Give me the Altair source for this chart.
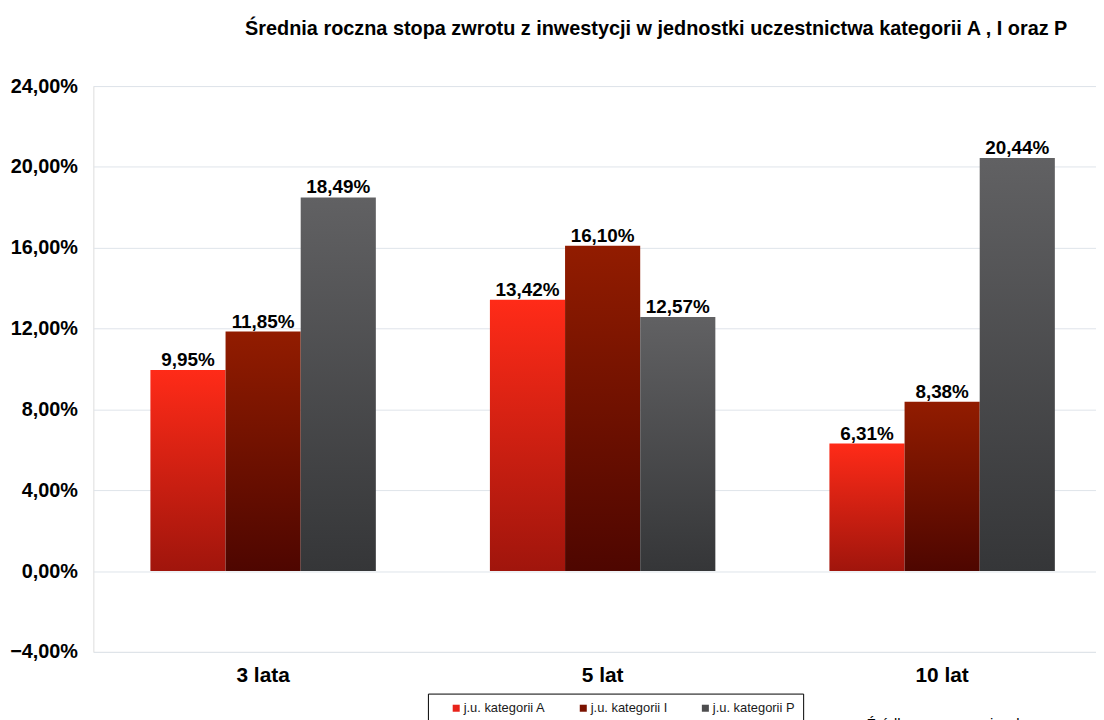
import altair as alt
import pandas as pd

periods = ["3 lata", "5 lat", "10 lat"]
series = ["j.u. kategorii A", "j.u. kategorii I", "j.u. kategorii P"]
vals_A = [9.95, 13.42, 6.31]
vals_I = [11.85, 16.10, 8.38]
vals_P = [18.49, 12.57, 20.44]
y_ticks = [-4, 0, 4, 8, 12, 16, 20, 24]
legend_colors = ["#e8231a", "#7a1200", "#4d4d4f"]
grad_top = ["#ff2b18", "#921c00", "#616163"]
grad_bottom = ["#a0150c", "#4e0600", "#353638"]

title_text = "Średnia roczna stopa zwrotu z inwestycji  w jednostki uczestnictwa kategorii A , I oraz P"
source_text = ["Źródło: opracowanie własne"]

rows = []
for s, vals in zip(series, [vals_A, vals_I, vals_P]):
    for p, v in zip(periods, vals):
        rows.append({"period": p, "series": s, "value": v,
                     "label": f"{v:.2f}".replace(".", ",") + "%"})
df = pd.DataFrame(rows)

FONT = "Liberation Sans"

x_enc = alt.X("period:N", sort=periods, title=None,
              scale=alt.Scale(domain=periods, paddingInner=0.336, paddingOuter=0.168, range=[0, 1026]),
              axis=alt.Axis(labelFontSize=21, labelFontWeight="bold", labelFont=FONT, labelColor="#000",
                            labelPadding=13, ticks=False, domain=False, labelAngle=0))
xo_enc = alt.XOffset("series:N", scale=alt.Scale(domain=series, paddingInner=0, paddingOuter=0))
y_enc = alt.Y("value:Q", title=None,
              scale=alt.Scale(domain=[-4, 24], nice=False),
              axis=alt.Axis(values=y_ticks, labelFontSize=20, labelFontWeight="bold", labelFont=FONT,
                            labelColor="#000", labelPadding=16, ticks=False, domain=False,
                            gridColor="#dfe4ea", gridWidth=1,
                            labelExpr="replace(format(datum.value, '.2f'), '.', ',') + '%'"))

base = alt.Chart(df)

def grad(top, bottom):
    return alt.LinearGradient(gradient="linear",
                              stops=[alt.GradientStop(offset=0, color=top),
                                     alt.GradientStop(offset=1, color=bottom)],
                              x1=0, x2=0, y1=0, y2=1)

layers = []
for s, t, b in zip(series, grad_top, grad_bottom):
    layers.append(base.transform_filter(alt.datum.series == s)
                  .mark_bar(color=grad(t, b))
                  .encode(x=x_enc, xOffset=xo_enc, y=y_enc))

legend_layer = base.mark_bar(opacity=1).encode(
    x=x_enc, xOffset=xo_enc, y=alt.datum(0), y2=alt.datum(0),
    color=alt.Color("series:N", scale=alt.Scale(domain=series, range=legend_colors),
                    legend=alt.Legend(title=None, orient="none", legendX=337, legendY=612,
                                      direction="horizontal", strokeColor="#000", padding=8,
                                      symbolType="square", symbolSize=50, symbolStrokeWidth=0,
                                      symbolOffset=14,
                                      labelFontSize=13, labelFont=FONT, labelColor="#1a1a1a",
                                      columnPadding=17, labelOffset=1)))

labels = base.mark_text(font=FONT, fontSize=19, fontWeight="bold", color="#000",
                        baseline="alphabetic", dy=-4).encode(
    x=x_enc, xOffset=xo_enc, y=alt.Y("value:Q"), text="label:N")

src = alt.Chart(pd.DataFrame({"t": source_text})).mark_text(
    font=FONT, fontSize=15, align="left", baseline="alphabetic", color="#000").encode(
    x=alt.value(779), y=alt.value(648), text="t:N")

chart = alt.layer(*layers, legend_layer, labels, src).properties(
    width=1010, height=570,
    title=alt.TitleParams(title_text, font=FONT, fontSize=20, fontWeight="bold", color="#000",
                          anchor="middle", frame="group", dx=62, offset=37),
    autosize=alt.AutoSizeParams(type="none"),
    padding={"left": 86, "top": 76, "right": 0, "bottom": 70},
).configure_view(stroke="#d6d6d6", strokeWidth=2).configure(background="white")

chart.save("out.html", embed_options={"renderer": "svg", "actions": False})
